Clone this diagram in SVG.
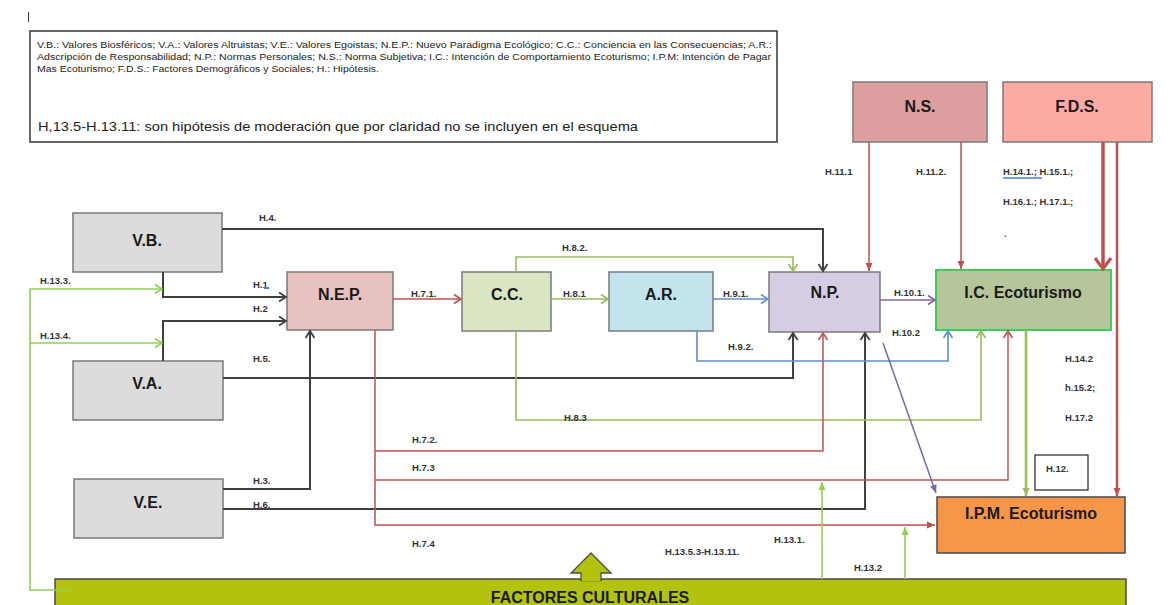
<svg xmlns="http://www.w3.org/2000/svg" width="1176" height="605" viewBox="0 0 1176 605">
<style>
  .node rect { stroke: #7a7a7a; stroke-width: 1.5; }
  .nt { font-family: "Liberation Sans", Arial, sans-serif; font-weight: bold; font-size: 16px; fill: #1a1a1a; text-anchor: middle; }
  .lb { font-family: "Liberation Sans", Arial, sans-serif; font-weight: bold; font-size: 9.5px; fill: #333; }
  .lg { font-family: "Liberation Sans", Arial, sans-serif; font-size: 8.5px; fill: #222; }
  .c { fill: none; }
  .k { stroke: #404040; stroke-width: 2; }
  .r { stroke: #c0504d; stroke-width: 1.5; }
  .g { stroke: #9bbb59; stroke-width: 1.6; }
  .lgn { stroke: #92d050; stroke-width: 1.6; }
  .b { stroke: #5b8fd0; stroke-width: 1.6; }
  .p { stroke: #8064a2; stroke-width: 1.5; }
</style>
<defs>
  <marker id="ck" markerUnits="userSpaceOnUse" markerWidth="12" markerHeight="12" viewBox="0 0 12 12" refX="10" refY="6" orient="auto" overflow="visible"><path d="M3,1.5 L10,6 L3,10.5" fill="none" stroke="#404040" stroke-width="1.8"/></marker>
  <marker id="cr" markerUnits="userSpaceOnUse" markerWidth="12" markerHeight="12" viewBox="0 0 12 12" refX="10" refY="6" orient="auto" overflow="visible"><path d="M3,1.5 L10,6 L3,10.5" fill="none" stroke="#c0504d" stroke-width="1.6"/></marker>
  <marker id="cg" markerUnits="userSpaceOnUse" markerWidth="12" markerHeight="12" viewBox="0 0 12 12" refX="10" refY="6" orient="auto" overflow="visible"><path d="M3,1.5 L10,6 L3,10.5" fill="none" stroke="#9bbb59" stroke-width="1.6"/></marker>
  <marker id="clg" markerUnits="userSpaceOnUse" markerWidth="12" markerHeight="12" viewBox="0 0 12 12" refX="10" refY="6" orient="auto" overflow="visible"><path d="M3,1.5 L10,6 L3,10.5" fill="none" stroke="#92d050" stroke-width="1.6"/></marker>
  <marker id="cb" markerUnits="userSpaceOnUse" markerWidth="12" markerHeight="12" viewBox="0 0 12 12" refX="10" refY="6" orient="auto" overflow="visible"><path d="M3,1.5 L10,6 L3,10.5" fill="none" stroke="#5b8fd0" stroke-width="1.6"/></marker>
  <marker id="cp" markerUnits="userSpaceOnUse" markerWidth="12" markerHeight="12" viewBox="0 0 12 12" refX="10" refY="6" orient="auto" overflow="visible"><path d="M3,1.5 L10,6 L3,10.5" fill="none" stroke="#8064a2" stroke-width="1.6"/></marker>
  <marker id="cR" markerUnits="userSpaceOnUse" markerWidth="20" markerHeight="20" viewBox="0 0 20 20" refX="16" refY="10" orient="auto" overflow="visible"><path d="M5,2 L16,10 L5,18" fill="none" stroke="#c0504d" stroke-width="3"/></marker>
  <marker id="tr" markerUnits="userSpaceOnUse" markerWidth="8" markerHeight="8" viewBox="0 0 8 8" refX="8" refY="4" orient="auto" overflow="visible"><path d="M0,0.5 L8,4 L0,7.5 z" fill="#c0504d"/></marker>
  <marker id="tp" markerUnits="userSpaceOnUse" markerWidth="8" markerHeight="8" viewBox="0 0 8 8" refX="8" refY="4" orient="auto" overflow="visible"><path d="M0,0.5 L8,4 L0,7.5 z" fill="#8064a2"/></marker>
  <marker id="tg" markerUnits="userSpaceOnUse" markerWidth="8" markerHeight="8" viewBox="0 0 8 8" refX="8" refY="4" orient="auto" overflow="visible"><path d="M0,0.5 L8,4 L0,7.5 z" fill="#9bbb59"/></marker>
  <marker id="tlg" markerUnits="userSpaceOnUse" markerWidth="8" markerHeight="8" viewBox="0 0 8 8" refX="8" refY="4" orient="auto" overflow="visible"><path d="M0,0.5 L8,4 L0,7.5 z" fill="#92d050"/></marker>
</defs>
<rect width="1176" height="605" fill="#ffffff"/>
<line x1="28.5" y1="12" x2="28.5" y2="22" stroke="#333" stroke-width="1"/>

<g id="legend">
  <rect x="30" y="31" width="747" height="111" fill="#fff" stroke="#333" stroke-width="1.5"/>
  <text class="lg" x="37" y="48" textLength="735" lengthAdjust="spacingAndGlyphs">V.B.: Valores Biosféricos; V.A.: Valores Altruistas; V.E.: Valores Egoistas; N.E.P.: Nuevo Paradigma Ecológico; C.C.: Conciencia en las Consecuencias; A.R.:</text>
  <text class="lg" x="37" y="60" textLength="734" lengthAdjust="spacingAndGlyphs">Adscripción de Responsabilidad; N.P.: Normas Personales; N.S.: Norma Subjetiva; I.C.: Intención de Comportamiento Ecoturismo; I.P.M: Intención de Pagar</text>
  <text class="lg" x="37" y="72" textLength="342" lengthAdjust="spacingAndGlyphs">Mas Ecoturismo; F.D.S.: Factores Demográficos y Sociales; H.: Hipótesis.</text>
  <text x="38" y="131" font-family="Liberation Sans, Arial, sans-serif" font-size="13.5" fill="#222" textLength="600" lengthAdjust="spacingAndGlyphs">H,13.5-H.13.11: son hipótesis de moderación que por claridad no se incluyen en el esquema</text>
</g>

<g id="node-vb" class="node"><rect x="73" y="213" width="149" height="59" fill="#dcdcdc"/><text class="nt" x="147" y="246">V.B.</text></g>
<g id="node-va" class="node"><rect x="73" y="361" width="150" height="59" fill="#dcdcdc"/><text class="nt" x="147" y="389">V.A.</text></g>
<g id="node-ve" class="node"><rect x="74" y="479" width="149" height="59" fill="#dcdcdc"/><text class="nt" x="148" y="508">V.E.</text></g>
<g id="node-nep" class="node"><rect x="287" y="272" width="106" height="58" fill="#e8c1c1"/><text class="nt" x="340" y="300">N.E.P.</text></g>
<g id="node-cc" class="node"><rect x="462" y="272" width="89" height="59" fill="#dae5c3"/><text class="nt" x="507" y="300">C.C.</text></g>
<g id="node-ar" class="node"><rect x="609" y="272" width="104" height="59" fill="#c3e4ec"/><text class="nt" x="661" y="300">A.R.</text></g>
<g id="node-np" class="node"><rect x="769" y="272" width="111" height="60" fill="#d6cde2"/><text class="nt" x="825" y="298">N.P.</text></g>
<g id="node-ic" class="node"><rect x="936" y="270" width="175" height="60" fill="#b5c69a" style="stroke:#3ccc5a;stroke-width:2"/><text class="nt" x="1023" y="298">I.C. Ecoturismo</text></g>
<g id="node-ns" class="node"><rect x="853" y="82" width="134" height="60" fill="#dc9e9e"/><text class="nt" x="920" y="112">N.S.</text></g>
<g id="node-fds" class="node"><rect x="1003" y="82" width="149" height="60" fill="#fbaaa4"/><text class="nt" x="1077" y="112">F.D.S.</text></g>
<g id="node-ipm" class="node"><rect x="937" y="497" width="188" height="56" fill="#f79646" style="stroke:#4a4a4a"/><text class="nt" x="1031" y="519">I.P.M. Ecoturismo</text></g>
<g id="node-h12"><rect x="1035" y="455" width="53" height="35" fill="#fff" stroke="#222" stroke-width="1.2"/><text class="lb" x="1046" y="472">H.12.</text></g>
<g id="node-fc">
  <rect x="55" y="579" width="1071" height="40" fill="#b3c20f" stroke="#4a4a4a" stroke-width="1.5"/>
  <path d="M591,553 L611,573 L601,573 L601,580.5 L581,580.5 L581,573 L571,573 Z" fill="#b3c20f" stroke="#4a4a4a" stroke-width="1.3"/>
  <rect x="581.8" y="577" width="18.4" height="4" fill="#b3c20f"/>
  <text class="nt" x="590" y="603">FACTORES CULTURALES</text>
</g>

<g id="connectors" class="c">
  <path class="k" d="M222,229 H823 V271" marker-end="url(#ck)"/>
  <path class="k" d="M163,272 V297 H286" marker-end="url(#ck)"/>
  <path class="k" d="M163,361 V321 H286" marker-end="url(#ck)"/>
  <path class="k" d="M223,378 H793 V333" marker-end="url(#ck)"/>
  <path class="k" d="M223,489 H310 V331" marker-end="url(#ck)"/>
  <path class="k" d="M223,509 H865 V333" marker-end="url(#ck)"/>

  <path class="g" d="M551,299 H608" marker-end="url(#cg)"/>
  <path class="g" d="M516,272 V257 H793 V271" marker-end="url(#cg)"/>
  <path class="g" d="M516,331 V420 H981 V331" marker-end="url(#cg)"/>

  <path class="b" d="M713,299 H768" marker-end="url(#cb)"/>
  <path class="b" d="M697,331 V361 H948 V331" marker-end="url(#cb)"/>

  <path class="r" d="M393,299 H461" marker-end="url(#cr)"/>
  <path class="r" d="M375,330 V525 H935" marker-end="url(#tr)"/>
  <path class="r" d="M375,451 H823 V333" marker-end="url(#cr)"/>
  <path class="r" d="M375,480 H1008 V331" marker-end="url(#cr)"/>
  <path class="r" d="M869,142 V271" marker-end="url(#tr)"/>
  <path class="r" d="M961,142 V269" marker-end="url(#tr)"/>

  <path class="p" d="M880,300 H935" marker-end="url(#cp)"/>
  <path class="p" d="M883,343 L936,493" marker-end="url(#tp)"/>

  <path d="M1103,142 V269" stroke="#c0504d" stroke-width="3.5" marker-end="url(#cR)"/>
  <path d="M1117,142 V496" stroke="#c0504d" stroke-width="2.5" marker-end="url(#tr)"/>
  <path d="M1026,330 V496" stroke="#9bbb59" stroke-width="2.5" marker-end="url(#tg)"/>

  <path class="lgn" d="M72,590 H30 V289 H162" marker-end="url(#clg)"/>
  <path class="lgn" d="M30,343 H162" marker-end="url(#clg)"/>
  <path class="lgn" d="M822,579 V482" marker-end="url(#tlg)"/>
  <path class="lgn" d="M905,579 V527" marker-end="url(#tlg)"/>
</g>

<g id="labels">
  <text class="lb" x="259" y="221">H.4.</text>
  <text class="lb" x="253" y="288">H.1</text>
  <rect x="264" y="287" width="5" height="2" fill="#4a7fd6"/>
  <text class="lb" x="253" y="312">H.2</text>
  <text class="lb" x="253" y="362">H.5.</text>
  <text class="lb" x="253" y="484">H.3.</text>
  <text class="lb" x="253" y="508">H.6.</text>
  <text class="lb" x="40" y="284">H.13.3.</text>
  <text class="lb" x="40" y="339">H.13.4.</text>
  <text class="lb" x="411" y="297">H.7.1.</text>
  <text class="lb" x="563" y="297">H.8.1</text>
  <text class="lb" x="723" y="297">H.9.1.</text>
  <text class="lb" x="894" y="296">H.10.1.</text>
  <text class="lb" x="562" y="251">H.8.2.</text>
  <text class="lb" x="728" y="350">H.9.2.</text>
  <text class="lb" x="564" y="421">H.8.3</text>
  <text class="lb" x="892" y="336">H.10.2</text>
  <text class="lb" x="412" y="443">H.7.2.</text>
  <text class="lb" x="412" y="471">H.7.3</text>
  <text class="lb" x="412" y="547">H.7.4</text>
  <text class="lb" x="825" y="175">H.11.1</text>
  <text class="lb" x="916" y="175">H.11.2.</text>
  <text class="lb" x="1003" y="175">H.14.1.; H.15.1.;</text>
  <line x1="1003" y1="178" x2="1042" y2="178" stroke="#4a7fd6" stroke-width="1.5"/>
  <text class="lb" x="1003" y="205">H.16.1.; H.17.1.;</text>
  <text class="lb" x="1004" y="237">.</text>
  <text class="lb" x="1065" y="362">H.14.2</text>
  <text class="lb" x="1065" y="391">h.15.2;</text>
  <text class="lb" x="1065" y="421">H.17.2</text>
  <text class="lb" x="774" y="543">H.13.1.</text>
  <text class="lb" x="665" y="555">H.13.5.3-H.13.11.</text>
  <text class="lb" x="854" y="571">H.13.2</text>
</g>
</svg>
